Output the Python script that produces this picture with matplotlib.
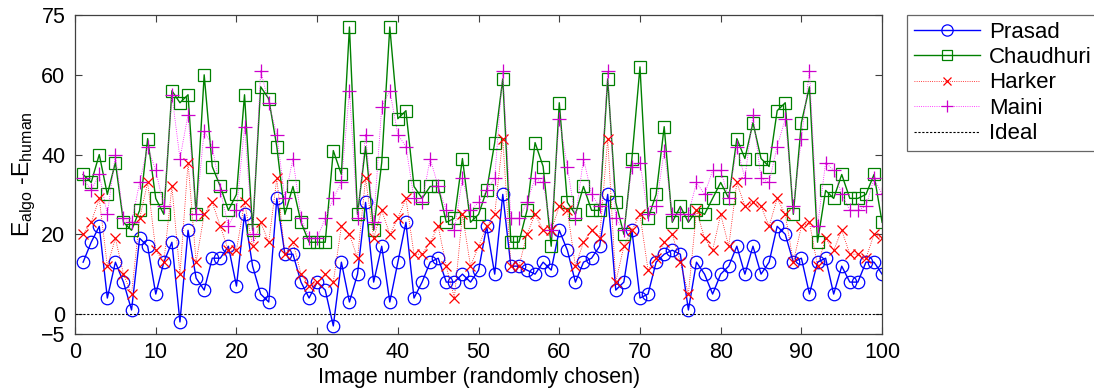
import numpy as np
import matplotlib
matplotlib.use("Agg")
import matplotlib.pyplot as plt

plt.rcParams['font.family'] = ['Liberation Sans', 'DejaVu Sans']

image_no = np.arange(1, 101)

prasad = [13, 18, 22, 4, 13, 8, 1, 19, 17, 5,
          13, 18, -2, 21, 9, 6, 14, 14, 17, 7,
          25, 12, 5, 3, 29, 15, 15, 8, 4, 8,
          6, -3, 13, 3, 10, 28, 8, 17, 3, 13,
          23, 4, 8, 13, 14, 8, 8, 10, 8, 11,
          22, 10, 30, 12, 12, 11, 10, 13, 11, 21,
          16, 8, 13, 14, 17, 30, 6, 8, 21, 4,
          5, 13, 15, 16, 15, 1, 13, 10, 5, 10,
          12, 17, 10, 17, 10, 13, 22, 20, 13, 14,
          5, 13, 14, 5, 12, 8, 8, 13, 13, 10]

chaudhuri = [35, 33, 40, 30, 38, 23, 21, 26, 44, 29,
             25, 56, 53, 55, 25, 60, 37, 32, 26, 30,
             55, 21, 57, 54, 42, 25, 32, 23, 18, 18,
             18, 41, 35, 72, 25, 42, 21, 38, 72, 49,
             51, 32, 29, 32, 32, 23, 24, 39, 23, 25,
             31, 43, 59, 18, 18, 26, 43, 37, 17, 53,
             28, 25, 32, 26, 26, 59, 28, 20, 39, 62,
             24, 30, 47, 23, 27, 23, 26, 25, 29, 33,
             29, 44, 39, 48, 39, 37, 51, 53, 25, 48,
             57, 18, 31, 29, 35, 29, 29, 30, 35, 23]

harker = [20, 23, 29, 12, 19, 10, 5, 24, 33, 16,
          13, 32, 10, 38, 13, 25, 28, 22, 16, 16,
          28, 17, 23, 18, 34, 15, 18, 10, 7, 8,
          10, 8, 22, 20, 14, 34, 19, 26, 20, 24,
          29, 15, 15, 18, 22, 12, 4, 25, 12, 17,
          22, 25, 44, 12, 12, 20, 25, 21, 21, 27,
          26, 12, 18, 21, 19, 44, 8, 17, 21, 25,
          11, 14, 18, 20, 13, 5, 26, 19, 16, 25,
          17, 33, 27, 28, 27, 22, 29, 25, 13, 22,
          23, 12, 19, 16, 21, 15, 15, 14, 20, 19]

maini = [34, 31, 35, 25, 40, 24, 23, 33, 42, 36,
         27, 55, 39, 50, 25, 46, 42, 31, 22, 26,
         47, 20, 61, 53, 45, 29, 39, 24, 19, 19,
         24, 29, 33, 56, 24, 45, 23, 52, 56, 45,
         42, 29, 28, 39, 32, 26, 21, 34, 26, 28,
         31, 34, 61, 24, 24, 28, 34, 33, 21, 49,
         37, 24, 39, 30, 27, 61, 24, 21, 37, 38,
         25, 27, 41, 25, 25, 25, 33, 30, 36, 36,
         29, 42, 34, 50, 34, 33, 42, 49, 27, 44,
         61, 22, 38, 36, 30, 26, 26, 27, 34, 30]

x_ticks = list(range(0, 101, 10))
y_ticks = [-5, 0, 20, 40, 60, 75]

fig = plt.figure(figsize=(10.94, 3.91), dpi=100)
ax = fig.add_axes([0.0686, 0.146, 0.7377, 0.8155])

ax.plot(image_no, prasad, color='#0000ff', lw=1.0, marker='o', ms=9,
        mfc='none', mec='#0000ff', mew=0.9, label='Prasad')
ax.plot(image_no, chaudhuri, color='#008000', lw=1.0, marker='s', ms=8,
        mfc='none', mec='#008000', mew=0.9, label='Chaudhuri')
ax.plot(image_no, harker, color='#ff0000', lw=0.6, ls=':', marker='x', ms=7,
        mec='#ff0000', mew=0.9, label='Harker')
ax.plot(image_no, maini, color='#ff00ff', lw=0.6, ls=':', marker='+', ms=10,
        mec='#cc00cc', mew=0.9, label='Maini')
ax.axhline(0, color='black', lw=0.8, ls=(0, (2, 1.5)), label='Ideal')

ax.set_xlim(0, 100)
ax.set_ylim(-5, 75)
ax.set_xticks(x_ticks)
ax.set_yticks(y_ticks)
ax.tick_params(direction='in', top=True, right=True, labelsize=15.5, length=5,
               color='#404040')
ax.tick_params(axis='x', pad=6)
ax.tick_params(axis='y', pad=7)
for s in ax.spines.values():
    s.set_color('#404040')
    s.set_linewidth(0.9)

ax.set_xlabel('Image number (randomly chosen)', fontsize=15.5, labelpad=3)
ax.set_ylabel(r'E$_{\mathregular{algo}}$ -E$_{\mathregular{human}}$', fontsize=16.5, labelpad=2)

leg = fig.legend(loc='upper left', bbox_to_anchor=(0.829, 0.962), fontsize=16,
                 frameon=True, fancybox=False, edgecolor='#404040',
                 handlelength=3.0, borderpad=0.3, labelspacing=0.2,
                 handletextpad=0.4, borderaxespad=0, markerscale=0.9)
leg.get_frame().set_linewidth(0.9)

fig.savefig('out.png', dpi=100)
